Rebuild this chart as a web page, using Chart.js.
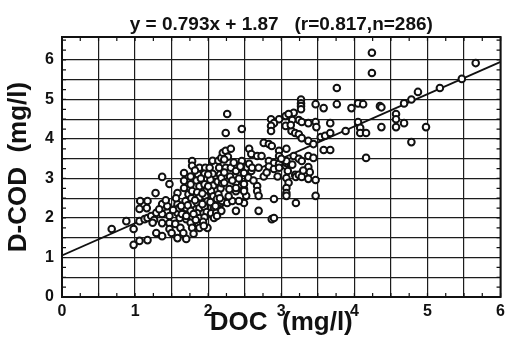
<!DOCTYPE html>
<html>
<head>
<meta charset="utf-8">
<script src="https://cdn.jsdelivr.net/npm/chart.js@4"></script>
<style>
  html, body { margin: 0; padding: 0; background: #fff; }
  #wrap { width: 510px; height: 345px; }
</style>
</head>
<body>
<div id="wrap"><canvas id="chart" width="510" height="345"></canvas></div>
<script>
// DOC vs D-COD scatter with regression line

const titleText = 'y = 0.793x + 1.87   (r=0.817,n=286)';
const xTitle = 'DOC  (mg/l)';
const yTitle = 'D-COD  (mg/l)';

// sample values (DOC, D-COD pairs)
const docValues = [
  0.68, 0.88, 0.98, 0.98, 1.06, 1.17, 1.06, 1.13, 1.17, 1.22, 1.29, 1.07, 1.17, 1.06, 1.16, 1.28,
  1.29, 1.37, 1.37, 1.47, 1.37, 1.37, 1.37, 1.47, 1.47, 1.47, 1.50, 1.26, 1.33, 1.44, 1.42, 1.24,
  1.58, 1.58, 1.58, 1.61, 1.58, 1.70, 1.67, 1.67, 1.67, 1.69, 1.70, 1.70, 1.55, 1.62, 1.56, 1.64,
  1.66, 1.73, 1.60, 1.52,
  1.78, 1.78, 1.76, 1.76, 1.78, 1.77, 1.78, 1.76, 1.78, 1.76, 1.78, 1.80, 1.88, 1.86, 1.84, 1.88,
  1.85, 1.88, 1.85, 1.88, 1.85, 1.88, 1.86, 1.88, 1.96, 1.95, 1.97, 1.95, 1.98, 1.96, 1.99, 1.95,
  1.98, 1.95, 1.99, 1.93, 1.82, 1.92,
  2.02, 2.06, 2.03, 2.07, 2.04, 2.07, 2.03, 2.08, 2.04, 2.08, 2.06, 2.11, 2.15, 2.14, 2.18, 2.13,
  2.17, 2.14, 2.16, 2.18, 2.19, 2.12, 2.20, 2.18,
  2.24, 2.31, 2.27, 2.22, 2.24, 2.31, 2.38, 2.49, 2.59, 2.18, 2.22, 2.29, 2.38, 2.49, 2.52, 2.38,
  2.38, 2.49, 2.49, 2.49, 2.19, 2.26, 2.33, 2.42, 2.38, 2.69, 2.87, 2.26, 2.46, 2.24, 2.56, 2.59,
  2.67, 2.73, 2.46, 2.56, 2.60, 2.69, 2.67, 2.67, 2.69, 2.90, 2.30, 2.33, 2.28, 2.42,
  2.86, 2.97, 3.06, 3.17, 2.90, 3.10, 2.86, 2.86, 3.06, 2.76, 2.83, 2.87, 2.97, 2.97, 3.07, 2.83,
  2.90, 2.97, 3.06, 3.07, 2.83, 2.90, 2.97, 3.07, 3.17, 3.24, 3.28, 3.37, 3.44, 3.09, 3.19, 3.07,
  3.10, 3.07, 3.20, 3.24, 3.28, 3.37, 3.39, 3.37, 3.47, 3.07, 3.07, 3.20, 3.47, 2.90, 2.76, 3.27,
  3.27, 3.27, 3.27, 3.47, 3.58, 3.76, 3.76, 3.24, 3.28, 3.37, 3.47, 3.48, 3.67, 3.14, 3.19, 3.24,
  3.28, 3.37, 3.44, 3.54, 3.60, 3.67, 3.58, 3.67, 3.15, 3.13,
  3.96, 4.05, 4.12, 4.35, 4.05, 4.08, 4.08, 4.16, 3.88, 4.16, 4.24, 4.24, 4.37, 4.37, 4.57, 4.57,
  4.68, 4.57, 4.98, 4.78, 4.68, 4.78, 4.87, 5.17, 5.47, 5.66,
  1.72, 1.82, 1.80, 1.92, 2.00, 2.10, 2.12, 1.90, 2.00, 2.22, 1.83, 1.94, 2.16, 2.35, 2.44, 2.55,
  2.62, 2.80, 2.95, 3.00, 3.15, 3.30, 1.70, 1.63
];

const codValues = [
  1.72, 1.92, 1.72, 1.32, 1.42, 1.44, 1.92, 1.97, 2.00, 2.05, 2.13, 2.43, 2.43, 2.23, 2.25, 2.63,
  1.62, 1.54, 3.04, 2.86, 2.35, 2.10, 1.87, 2.05, 1.87, 1.72, 1.62, 1.95, 2.22, 2.30, 2.45, 1.88,
  2.63, 2.35, 2.13, 2.00, 1.49, 1.47, 3.14, 2.94, 2.76, 2.43, 2.25, 1.97, 1.85, 1.75, 2.50, 2.10,
  1.62, 2.60, 2.25, 2.20,
  3.44, 3.32, 3.05, 2.85, 2.68, 2.50, 2.35, 2.18, 2.03, 1.88, 1.75, 1.60, 3.27, 3.10, 2.95, 2.80,
  2.65, 2.52, 2.38, 2.25, 2.12, 2.00, 1.87, 1.75, 3.27, 3.12, 2.97, 2.85, 2.70, 2.55, 2.42, 2.28,
  2.15, 2.02, 1.75, 1.90, 3.20, 2.62,
  3.27, 3.12, 2.97, 2.82, 2.68, 2.55, 2.40, 2.25, 2.12, 2.00, 3.45, 2.13, 3.27, 3.45, 3.52, 2.92,
  2.75, 2.60, 3.10, 2.38, 2.88, 2.48, 3.65, 2.18,
  3.70, 3.75, 3.55, 3.48, 3.27, 3.27, 3.19, 3.14, 3.19, 3.01, 2.89, 2.73, 2.68, 2.73, 2.56, 2.89,
  2.76, 2.86, 2.68, 2.38, 2.43, 2.38, 2.43, 2.43, 2.18, 2.18, 1.97, 4.63, 4.25, 4.15, 3.75, 3.62,
  3.57, 3.57, 3.44, 3.37, 3.27, 3.27, 2.81, 2.68, 2.56, 2.00, 3.05, 2.95, 2.55, 3.00,
  4.50, 4.50, 4.58, 4.66, 4.40, 4.63, 4.33, 4.20, 4.33, 3.90, 3.87, 3.82, 3.70, 3.57, 3.75, 3.44,
  3.39, 3.37, 3.32, 3.39, 3.30, 3.24, 3.27, 3.44, 3.57, 3.50, 3.44, 3.57, 3.52, 3.19, 3.09, 3.01,
  2.89, 2.76, 3.04, 3.09, 3.04, 3.29, 3.16, 2.99, 2.96, 2.63, 2.56, 2.38, 2.56, 2.48, 3.05, 5.00,
  4.90, 4.83, 4.75, 4.88, 4.78, 5.29, 4.88, 4.48, 4.43, 4.40, 4.43, 4.30, 4.40, 4.20, 4.15, 4.12,
  4.02, 3.95, 3.87, 4.05, 4.08, 4.15, 3.72, 3.72, 4.48, 4.35,
  4.78, 4.90, 4.88, 4.83, 4.43, 4.28, 4.15, 4.15, 4.20, 3.52, 6.18, 5.67, 4.80, 4.30, 4.63, 4.50,
  4.40, 4.30, 4.30, 3.92, 4.90, 5.00, 5.19, 5.29, 5.52, 5.92,
  2.32, 2.45, 2.10, 2.35, 2.80, 2.30, 2.05, 3.00, 3.10, 3.15, 1.95, 1.80, 2.50, 3.40, 3.30, 3.02,
  2.95, 3.15, 3.05, 3.50, 3.35, 3.20, 2.05, 2.30
];

// regression line as drawn on the figure (end points)
const fitX = [0, 6];
const fitY = [1.05, 5.95];

// axis ranges / steps
const xRange = [0, 6];
const yRange = [0, 6.58];
const gridStep = 0.5;
const minorStep = 0.25;

const FONT = "'Liberation Sans', Arial, Helvetica, sans-serif";
const INK = '#111';

// minor inward ticks on all four sides + the frame
const frameTicks = {
  id: 'frameTicks',
  afterDraw(chart) {
    const { ctx, chartArea: a, scales } = chart;
    const x = scales.x, y = scales.y;
    ctx.save();
    ctx.strokeStyle = INK;
    ctx.lineWidth = 1.2;
    ctx.beginPath();
    for (let v = xRange[0]; v <= xRange[1] + 1e-6; v += minorStep) {
      const px = x.getPixelForValue(v);
      ctx.moveTo(px, a.bottom); ctx.lineTo(px, a.bottom - 4);
      ctx.moveTo(px, a.top); ctx.lineTo(px, a.top + 4);
    }
    for (let v = yRange[0]; v <= yRange[1] + 1e-6; v += minorStep) {
      const py = y.getPixelForValue(v);
      ctx.moveTo(a.left, py); ctx.lineTo(a.left + 4, py);
      ctx.moveTo(a.right, py); ctx.lineTo(a.right - 4, py);
    }
    ctx.stroke();
    ctx.lineWidth = 2;
    ctx.strokeRect(a.left, a.top, a.right - a.left, a.bottom - a.top);
    ctx.restore();
  }
};

const gridColor = (limit) => (c) => (c.tick && c.tick.value <= limit + 1e-6 ? '#1c1c1c' : 'rgba(0,0,0,0)');
const intLabel = (limit) => (v) => (Math.abs(v - Math.round(v)) < 1e-6 && v <= limit + 1e-6 ? String(Math.round(v)) : '');

new Chart(document.getElementById('chart'), {
  type: 'scatter',
  data: {
    datasets: [
      {
        label: 'samples',
        data: docValues.map((v, i) => ({ x: v, y: codValues[i] })),
        pointStyle: 'circle',
        pointRadius: 3.3,
        pointBorderWidth: 2,
        pointBackgroundColor: '#fff',
        pointBorderColor: INK,
        order: 1
      },
      {
        label: 'fit',
        type: 'line',
        data: fitX.map((v, i) => ({ x: v, y: fitY[i] })),
        showLine: true,
        borderColor: INK,
        borderWidth: 1.8,
        pointRadius: 0,
        fill: false,
        order: 2
      }
    ]
  },
  options: {
    responsive: false,
    animation: false,
    devicePixelRatio: 1,
    layout: { padding: { left: 0, right: 8, top: 0, bottom: 0 } },
    plugins: {
      legend: { display: false },
      tooltip: { enabled: false },
      title: {
        display: true,
        text: titleText,
        fullSize: false,
        color: INK,
        font: { family: FONT, size: 19, weight: 'bold', lineHeight: 1 },
        padding: { top: 15, bottom: 3 }
      }
    },
    scales: {
      x: {
        type: 'linear',
        min: xRange[0],
        max: xRange[1],
        afterFit: (s) => { s.height = 48; },
        border: { display: false },
        grid: { color: gridColor(6), lineWidth: 1.2, drawTicks: false },
        ticks: {
          stepSize: gridStep,
          autoSkip: false,
          maxRotation: 0,
          padding: 5,
          color: INK,
          font: { family: FONT, size: 16, weight: 'bold' },
          callback: intLabel(6)
        },
        title: {
          display: true,
          text: xTitle,
          color: INK,
          font: { family: FONT, size: 26, weight: 'bold', lineHeight: 1 },
          padding: { top: 0, bottom: 9 }
        }
      },
      y: {
        type: 'linear',
        min: yRange[0],
        max: yRange[1],
        afterFit: (s) => { s.width = 62; },
        border: { display: false },
        grid: { color: gridColor(6), lineWidth: 1.2, drawTicks: false },
        ticks: {
          stepSize: gridStep,
          autoSkip: false,
          padding: 8,
          color: INK,
          font: { family: FONT, size: 16, weight: 'bold' },
          callback: intLabel(6)
        },
        title: {
          display: true,
          text: yTitle,
          color: INK,
          font: { family: FONT, size: 26, weight: 'bold', lineHeight: 1 },
          padding: { top: 6, bottom: 0 }
        }
      }
    }
  },
  plugins: [frameTicks]
});
</script>
</body>
</html>
